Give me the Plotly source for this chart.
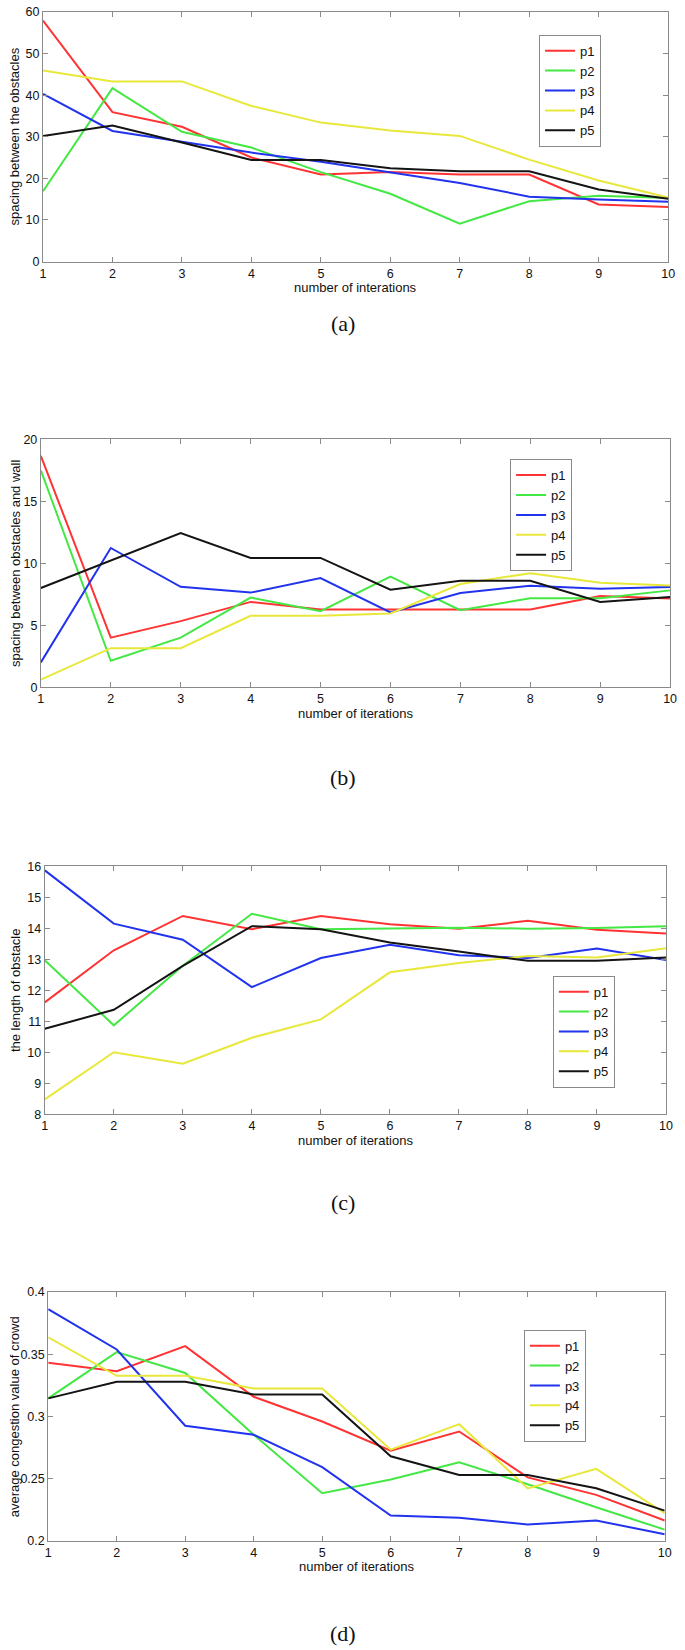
import plotly.graph_objects as go

# ---------------- data ----------------
iterations = [1, 2, 3, 4, 5, 6, 7, 8, 9, 10]
series_names = ["p1", "p2", "p3", "p4", "p5"]

# (a) spacing between the obstacles
a_p1 = [57.9, 35.9, 32.4, 25.0, 20.9, 21.5, 20.9, 20.9, 13.7, 13.1]
a_p2 = [16.9, 41.7, 31.2, 27.4, 21.5, 16.3, 9.1, 14.5, 15.8, 15.3]
a_p3 = [40.3, 31.4, 28.8, 26.2, 24.0, 21.5, 18.9, 15.6, 14.9, 14.4]
a_p4 = [45.9, 43.3, 43.3, 37.4, 33.4, 31.5, 30.2, 24.5, 19.5, 15.4]
a_p5 = [30.2, 32.7, 28.6, 24.4, 24.4, 22.4, 21.7, 21.7, 17.3, 15.1]

# (b) spacing between obstacles and wall
b_p1 = [18.67, 4.0, 5.33, 6.88, 6.27, 6.27, 6.27, 6.27, 7.36, 7.15]
b_p2 = [17.5, 2.13, 4.0, 7.23, 6.13, 8.93, 6.21, 7.17, 7.17, 7.81]
b_p3 = [2.0, 11.23, 8.1, 7.63, 8.8, 6.03, 7.6, 8.19, 7.95, 8.08]
b_p4 = [0.61, 3.15, 3.15, 5.76, 5.76, 5.95, 8.32, 9.2, 8.43, 8.21]
b_p5 = [8.0, 10.2, 12.43, 10.43, 10.43, 7.87, 8.59, 8.59, 6.88, 7.28]

# (c) the length of obstacle
c_p1 = [11.61, 13.29, 14.40, 13.97, 14.40, 14.13, 13.99, 14.24, 13.95, 13.83]
c_p2 = [12.97, 10.87, 12.79, 14.47, 13.97, 13.99, 14.02, 13.99, 14.01, 14.07]
c_p3 = [15.87, 14.15, 13.63, 12.10, 13.04, 13.47, 13.13, 13.04, 13.35, 12.98]
c_p4 = [8.48, 10.0, 9.63, 10.47, 11.06, 12.58, 12.88, 13.11, 13.06, 13.36]
c_p5 = [10.76, 11.37, 12.79, 14.07, 13.97, 13.54, 13.25, 12.95, 12.95, 13.06]

# (d) average congestion value of crowd
d_p1 = [0.3432, 0.3363, 0.3565, 0.3158, 0.2959, 0.2725, 0.2879, 0.2510, 0.2370, 0.2164]
d_p2 = [0.3145, 0.3517, 0.3349, 0.2853, 0.2383, 0.2494, 0.2632, 0.2455, 0.2270, 0.2090]
d_p3 = [0.3862, 0.3538, 0.2925, 0.2853, 0.2593, 0.2204, 0.2185, 0.2132, 0.2164, 0.2053]
d_p4 = [0.3636, 0.3326, 0.3326, 0.3225, 0.3225, 0.2733, 0.2938, 0.2421, 0.2579, 0.2222]
d_p5 = [0.3145, 0.3278, 0.3278, 0.3177, 0.3177, 0.2680, 0.2529, 0.2529, 0.2423, 0.2243]

x_titles = ["number of interations", "number of iterations", "number of iterations", "number of iterations"]
y_titles = ["spacing between the obstacles", "spacing between obstacles and wall",
            "the length of obstacle", "average congestion value of crowd"]
panel_labels = ["(a)", "(b)", "(c)", "(d)"]
y_ranges = [[0, 60], [0, 20], [8, 16], [0.2, 0.4]]
y_dticks = [10, 5, 1, 0.05]

panels = [
    [a_p1, a_p2, a_p3, a_p4, a_p5],
    [b_p1, b_p2, b_p3, b_p4, b_p5],
    [c_p1, c_p2, c_p3, c_p4, c_p5],
    [d_p1, d_p2, d_p3, d_p4, d_p5],
]

# ---------------- style / layout ----------------
W, H = 685, 1650
colors = ["#ff3333", "#44e844", "#2233ee", "#e8e83a", "#141414"]
# plot boxes in pixels: (left, right, top, bottom)
boxes = [
    (40.6, 675.0, 5.0, 256.7),
    (38.4, 677.0, 436.0, 686.0),
    (42.4, 672.8, 866.7, 1116.7),
    (45.9, 671.5, 1296.0, 1547.0),
]
legend_pos = [(544, 28), (514.6, 456), (558, 977), (528.6, 1334)]
xtitle_y = [283, 713, 1143, 1573]
label_y = [319, 777, 1206, 1640]

fig = go.Figure()
annotations = []
layout_kw = {}
font_family = "Liberation Sans, Arial, sans-serif"

for i, data in enumerate(panels):
    n = "" if i == 0 else str(i + 1)
    xa, ya = "x" + n, "y" + n
    leg = "legend" + n
    for j, vals in enumerate(data):
        fig.add_trace(go.Scatter(
            x=iterations, y=vals, mode="lines", name=series_names[j],
            line=dict(color=colors[j], width=2),
            xaxis=xa, yaxis=ya, legend=leg, showlegend=True,
        ))
    l, r, t, b = boxes[i]
    axis_common = dict(
        showline=True, linecolor="#8a8a8a", linewidth=1, mirror="ticks",
        ticks="inside", ticklen=5, tickcolor="#8a8a8a", showgrid=False, zeroline=False,
        tickfont=dict(family=font_family, size=12.5, color="#111"),
    )
    layout_kw["xaxis" + n] = dict(
        domain=[l / W, r / W], anchor=ya, range=[1, 10], dtick=1, tick0=1,
        ticklabelstandoff=0, **axis_common)
    layout_kw["yaxis" + n] = dict(
        domain=[1 - b / H, 1 - t / H], anchor=xa, range=y_ranges[i], dtick=y_dticks[i],
        tick0=y_ranges[i][0], ticklabelstandoff=0, **axis_common)
    lx, ly = legend_pos[i]
    layout_kw[leg] = dict(
        x=lx / W, y=1 - ly / H, xanchor="left", yanchor="top",
        bgcolor="white", bordercolor="#8a8a8a", borderwidth=1,
        font=dict(family=font_family, size=13, color="#111"),
        itemwidth=30, tracegroupgap=0,
    )
    cx = (l + r) / 2
    annotations.append(dict(
        text=x_titles[i], x=cx / W, y=1 - xtitle_y[i] / H, xref="paper", yref="paper",
        showarrow=False, xanchor="center", yanchor="middle",
        font=dict(family=font_family, size=13, color="#111")))
    annotations.append(dict(
        text=y_titles[i], x=12 / W, y=1 - ((t + b) / 2) / H, xref="paper", yref="paper",
        showarrow=False, textangle=-90, xanchor="center", yanchor="middle",
        font=dict(family=font_family, size=13, color="#111")))
    annotations.append(dict(
        text=panel_labels[i], x=345 / W, y=1 - label_y[i] / H, xref="paper", yref="paper",
        showarrow=False, xanchor="center", yanchor="middle",
        font=dict(family="Liberation Serif, Times New Roman, serif", size=22, color="#111")))

fig.update_layout(
    width=W, height=H, margin=dict(l=0, r=0, t=0, b=0),
    paper_bgcolor="white", plot_bgcolor="white",
    annotations=annotations, **layout_kw,
)

fig.write_html("out.html", config={"displayModeBar": False},
               post_script="document.body.style.margin='0';document.body.style.overflow='hidden';")
